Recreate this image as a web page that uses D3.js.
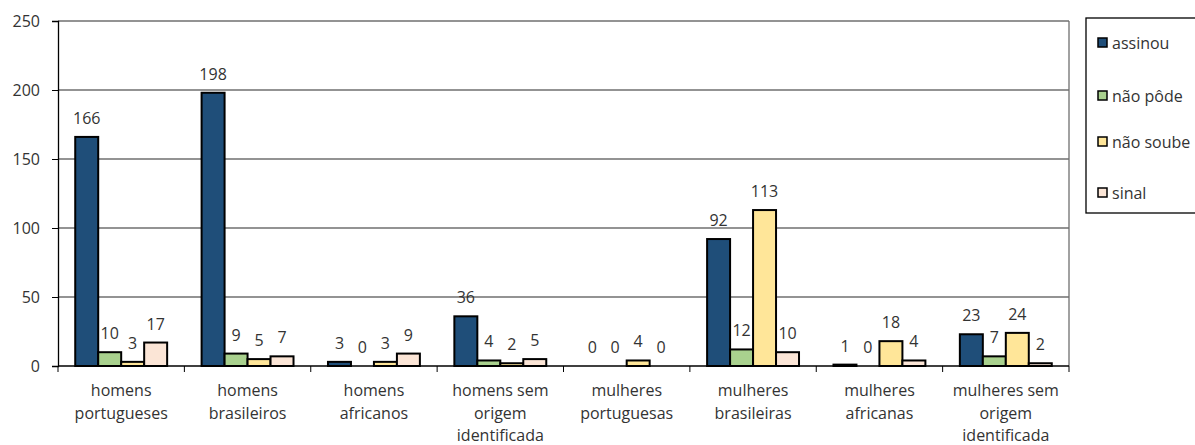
<!DOCTYPE html>
<html>
<head>
<meta charset="utf-8">
<script src="https://cdn.jsdelivr.net/npm/d3@7"></script>
<style>
  body { margin: 0; background: #fff; }
  text { font-family: "Open Sans", sans-serif; fill: #333; }
</style>
</head>
<body>
<div id="chart-area"></div>
<script>
// Data
var categories = [
  "homens\nportugueses", "homens\nbrasileiros", "homens\nafricanos", "homens sem\norigem\nidentificada",
  "mulheres\nportuguesas", "mulheres\nbrasileiras", "mulheres\nafricanas", "mulheres sem\norigem\nidentificada"
];
var seriesNames = ["assinou", "não pôde", "não soube", "sinal"];
var assinou  = [166, 198, 3, 36, 0, 92, 1, 23];
var naoPode  = [10, 9, 0, 4, 0, 12, 0, 7];
var naoSoube = [3, 5, 3, 2, 4, 113, 18, 24];
var sinal    = [17, 7, 9, 5, 0, 10, 4, 2];
var yTicks   = [0, 50, 100, 150, 200, 250];

var seriesValues = [assinou, naoPode, naoSoube, sinal];
var colors = ["#1f4e79", "#a9d18e", "#ffe699", "#fbe5d6"];

var width = 1195, height = 445;
var margin = {top: 21, left: 58, right: 1195 - 1069, bottom: 445 - 366};
var iw = width - margin.left - margin.right;
var ih = height - margin.top - margin.bottom;

var svg = d3.select("#chart-area").append("svg").attr("width", width).attr("height", height);
var g = svg.append("g").attr("transform", "translate(" + margin.left + "," + margin.top + ")");

// Scales
var x = d3.scaleBand().domain(d3.range(categories.length)).range([0, iw]);
var bw = x.bandwidth() / 5.5;
var x1 = d3.scaleBand().domain(d3.range(seriesNames.length))
  .range([0.75 * bw, x.bandwidth() - 0.75 * bw]);
var y = d3.scaleLinear().domain([0, 250]).range([ih, 0]);

// Gridlines
g.selectAll(".grid").data(yTicks.slice(1)).enter().append("line")
  .attr("x1", 0).attr("x2", iw).attr("y1", (d) => y(d)).attr("y2", (d) => y(d))
  .attr("stroke", "#6f6f6f").attr("stroke-width", 1.3);
g.append("line").attr("x1", iw).attr("x2", iw).attr("y1", 0).attr("y2", ih)
  .attr("stroke", "#6f6f6f").attr("stroke-width", 1.3);

// Bars
var groups = g.selectAll(".group").data(categories).enter().append("g")
  .attr("transform", (d, i) => "translate(" + x(i) + ",0)");

groups.each(function(c, i) {
  var gg = d3.select(this);
  seriesValues.forEach((vals, s) => {
    var v = vals[i];
    if (v > 0) {
      gg.append("rect").attr("x", x1(s)).attr("y", y(v))
        .attr("width", x1.bandwidth()).attr("height", ih - y(v))
        .attr("fill", colors[s]).attr("stroke", "#000").attr("stroke-width", 2);
    }
    gg.append("text").attr("x", x1(s) + x1.bandwidth() / 2).attr("y", y(v) - 13)
      .attr("text-anchor", "middle").attr("font-size", "16px").text(v);
  });
});

// Axes
var yAxis = g.append("g").call(d3.axisLeft(y).tickValues(yTicks).tickSize(6).tickPadding(12));
yAxis.selectAll("text").attr("font-size", "16px").style("font-family", "Open Sans").style("fill", "#333");
yAxis.select(".domain").attr("stroke", "#000").attr("stroke-width", 1.3);
yAxis.selectAll(".tick line").attr("stroke", "#000");

var xAxisG = g.append("g").attr("transform", "translate(0," + ih + ")");
xAxisG.append("line").attr("x1", 0).attr("x2", iw).attr("stroke", "#000").attr("stroke-width", 1.3);
xAxisG.selectAll(".xt").data(d3.range(categories.length + 1)).enter().append("line")
  .attr("x1", (d) => d * x.step()).attr("x2", (d) => d * x.step())
  .attr("y1", 0).attr("y2", 6).attr("stroke", "#000");

xAxisG.selectAll(".xl").data(categories).enter().append("text")
  .attr("text-anchor", "middle").attr("font-size", "16px")
  .attr("transform", (d, i) => "translate(" + (x(i) + x.bandwidth() / 2) + ",30)")
  .each(function(d) {
    var t = d3.select(this);
    d.split("\n").forEach((line, k) => {
      t.append("tspan").attr("x", 0).attr("dy", k === 0 ? 0 : 22.5).text(line);
    });
  });

// Legend
var legend = svg.append("g").attr("transform", "translate(1086,18)");
legend.append("rect").attr("x", 0).attr("y", 0).attr("width", 130).attr("height", 195)
  .attr("fill", "#fff").attr("stroke", "#000").attr("stroke-width", 1.3);
seriesNames.forEach((name, s) => {
  var ly = [25, 78, 124, 175][s];
  legend.append("rect").attr("x", 12).attr("y", ly - 5).attr("width", 9).attr("height", 9)
    .attr("fill", colors[s]).attr("stroke", "#000").attr("stroke-width", 1.5);
  legend.append("text").attr("x", 26).attr("y", ly + 6).attr("font-size", "16px").text(name);
});
</script>
</body>
</html>
